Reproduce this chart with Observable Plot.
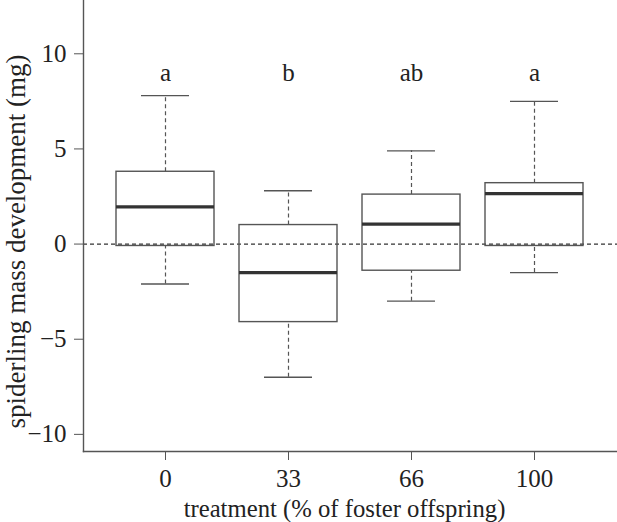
<!DOCTYPE html>
<html>
<head>
<meta charset="utf-8">
<script src="https://cdn.jsdelivr.net/npm/d3@7"></script>
<script src="https://cdn.jsdelivr.net/npm/@observablehq/plot@0.6"></script>
<style>
  html, body { margin: 0; padding: 0; background: #fff; }
  #chart svg { display: block; }
</style>
</head>
<body>
<div id="chart"></div>
<script>
// Data
const treatments = ["0", "33", "66", "100"];
const lowerWhisker = [-2.1, -7.0, -3.0, -1.5];
const lowerQuartile = [-0.1, -4.1, -1.4, -0.1];
const medians = [1.95, -1.5, 1.05, 2.65];
const upperQuartile = [3.8, 1.0, 2.6, 3.2];
const upperWhisker = [7.8, 2.8, 4.9, 7.5];
const groupLetters = ["a", "b", "ab", "a"];
const letterLevel = 9.0;
const yTicks = [-10, -5, 0, 5, 10];
const xTitle = "treatment (% of foster offspring)";
const yTitle = "spiderling mass development (mg)";

const boxes = treatments.map((t, i) => ({
  treatment: t,
  lo: lowerWhisker[i],
  q1: lowerQuartile[i],
  med: medians[i],
  q3: upperQuartile[i],
  hi: upperWhisker[i],
  letter: groupLetters[i]
}));

const font = "'Liberation Serif', 'Times New Roman', serif";
const grey = "#555";
const ink = "#222";

const chart = Plot.plot({
  width: 617,
  height: 522,
  marginLeft: 83,
  marginRight: 0,
  marginTop: 0,
  marginBottom: 71,
  style: { fontFamily: font, fontSize: "25px", color: ink, background: "#fff" },
  x: { type: "band", domain: treatments, paddingInner: 0.2, paddingOuter: 0.26, label: null },
  y: { domain: [-10.9, 12.8], label: null },
  marks: [
    Plot.ruleY([0], { stroke: "#333", strokeWidth: 1.2, strokeDasharray: "4,3" }),
    // whiskers
    Plot.ruleX(boxes, { x: "treatment", y1: "q3", y2: "hi", stroke: grey, strokeWidth: 1.2, strokeDasharray: "4,3" }),
    Plot.ruleX(boxes, { x: "treatment", y1: "lo", y2: "q1", stroke: grey, strokeWidth: 1.2, strokeDasharray: "4,3" }),
    Plot.tickY(boxes, { x: "treatment", y: "hi", stroke: grey, strokeWidth: 1.4, inset: 25 }),
    Plot.tickY(boxes, { x: "treatment", y: "lo", stroke: grey, strokeWidth: 1.4, inset: 25 }),
    // boxes
    Plot.barY(boxes, { x: "treatment", y1: "q1", y2: "q3", fill: "none", stroke: grey, strokeWidth: 1.4 }),
    Plot.tickY(boxes, { x: "treatment", y: "med", stroke: "#333", strokeWidth: 3.2 }),
    // significance letters
    Plot.text(boxes, { x: "treatment", y: () => letterLevel, text: "letter", fontSize: 25, fill: ink }),
    // axes
    Plot.axisY({
      ticks: yTicks, tickSize: 9, tickPadding: 8, tickFormat: d => d < 0 ? "\u2212" + Math.abs(d) : String(d),
      stroke: grey, fill: ink, fontSize: 25, label: null
    }),
    Plot.axisX({
      tickSize: 9, tickPadding: 9, stroke: grey, fill: ink, fontSize: 25, label: null
    }),
    Plot.frame({ anchor: "left", stroke: grey, strokeWidth: 1.4 }),
    Plot.frame({ anchor: "bottom", stroke: grey, strokeWidth: 1.4 }),
    // axis titles
    Plot.text([xTitle], {
      text: d => d, frameAnchor: "bottom", textAnchor: "middle", lineAnchor: "top", dx: -6, dy: 48,
      fontSize: 24.7, fill: ink
    }),
    Plot.text([yTitle], {
      text: d => d, frameAnchor: "left", textAnchor: "middle", lineAnchor: "top", rotate: -90, dx: -78, dy: 15.5,
      fontSize: 27, fill: ink
    })
  ]
});

document.getElementById("chart").appendChild(chart);
</script>
</body>
</html>
